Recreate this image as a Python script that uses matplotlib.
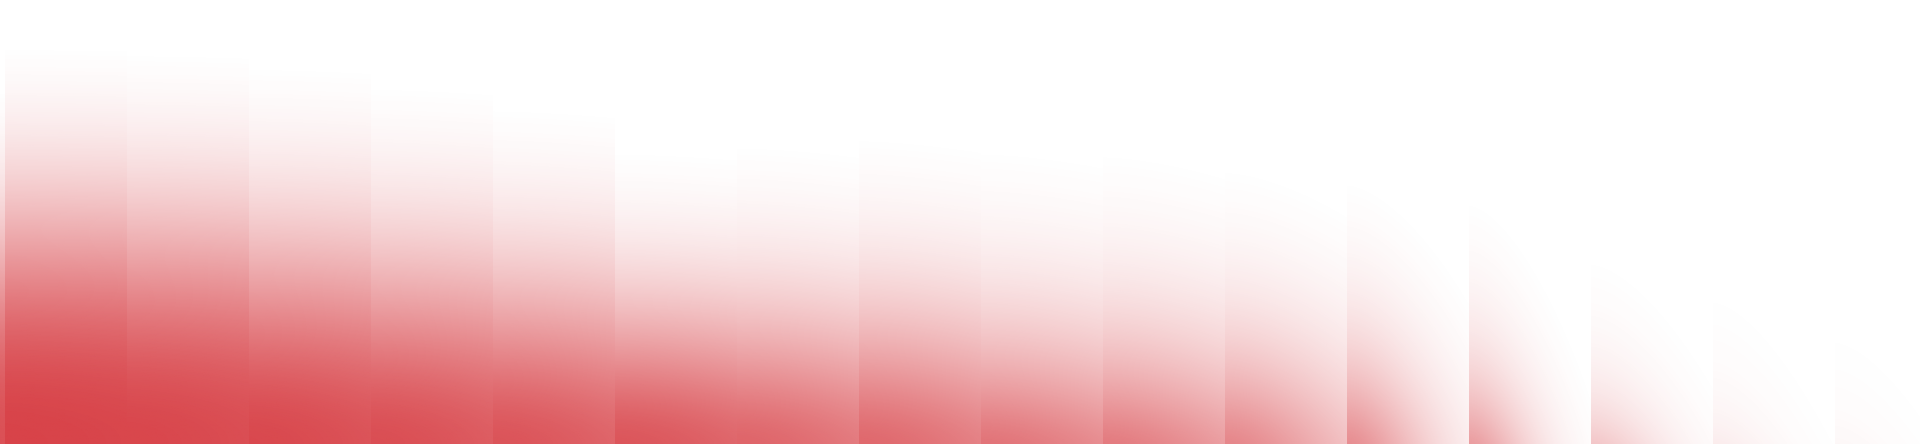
import numpy as np
import matplotlib
matplotlib.use("Agg")
import matplotlib.pyplot as plt

# ---- data (one bar per category; partially visible first and last bars) ----
categories = list(range(17))
values = [210, 237, 225, 205, 188, 170, 145, 142, 142, 125, 120, 114, 105, 90, 65, 55, 50]

# ---- per-bar gradient styling ----
base_alpha = [0.98, 1.0, 0.98, 0.97, 0.94, 0.91, 0.90, 0.82, 0.80, 0.74, 0.70, 0.64,
              0.60, 0.52, 0.30, 0.10, 0.04]
fade_power = [2.2, 2.25, 2.1, 1.9, 1.8, 1.7, 1.65, 1.55, 1.5, 1.35, 1.3, 1.3,
              1.25, 1.15, 1.07, 1.0, 1.0]
side_fade = [6.0, 11.4, 7.4, 5.7, 4.7, 4.1, 4.1, 3.26, 2.97, 2.75, 2.12, 1.33,
             0.735, 0.55, 0.63, 0.55, 0.55]
base_rgb = np.array([216, 66, 72]) / 255.0
floor = 0.04

fig = plt.figure(figsize=(19.2, 4.44), dpi=100)
ax = fig.add_axes([0, 0, 1, 1])
x0 = 0.5 - 5 / 122.0
xlim = (x0, x0 + 1920 / 122.0)
ylim = (0, 444)

bars = ax.bar(categories, [v * 3.2 for v in values], width=1.0,
              color="none", edgecolor="none")

for bar, L, b, p, lx in zip(bars, values, base_alpha, fade_power, side_fade):
    x, w, h = bar.get_x(), bar.get_width(), bar.get_height()
    ny, nx = 500, 80
    ys = np.linspace(0, h, ny)
    us = np.linspace(0, 1, nx)
    g = np.exp(-(ys[:, None] / L) ** p) * np.exp(-(us[None, :] / lx) ** 1.6)
    g = np.clip((g - floor) / (1 - floor), 0, 1)
    rgba = np.zeros((ny, nx, 4))
    rgba[..., :3] = base_rgb
    rgba[..., 3] = np.clip(b * g, 0, 1)
    im = ax.imshow(rgba, extent=(x, x + w, 0, h), origin="lower",
                   aspect="auto", interpolation="bilinear")
    im.set_clip_path(bar)

ax.set_xlim(*xlim)
ax.set_ylim(*ylim)
ax.axis("off")
fig.savefig("out.png", dpi=100, facecolor="white")
